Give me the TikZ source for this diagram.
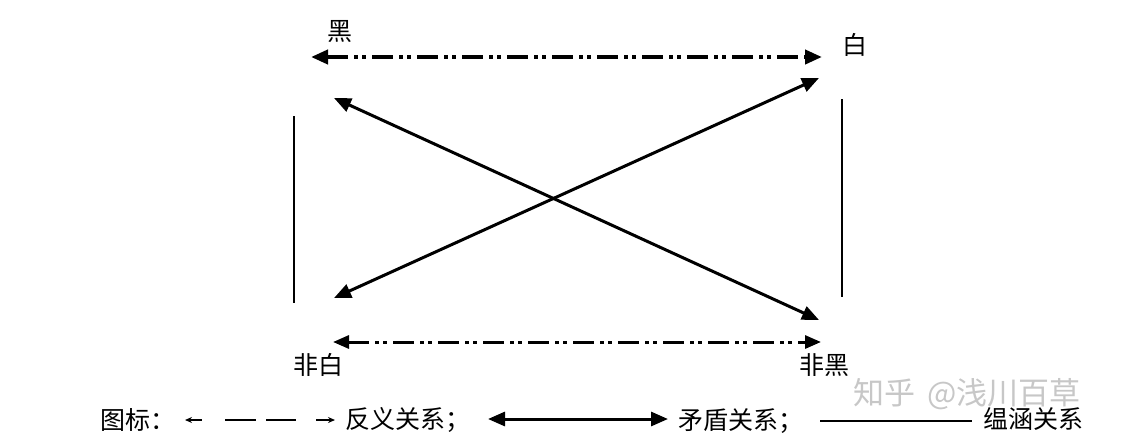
\documentclass[tikz,border=0pt]{standalone}
\usepackage{fontspec}
\newfontfamily\cjk{Noto Sans CJK SC}
\usetikzlibrary{arrows.meta}
\tikzset{
  lbl/.style={font=\cjk\fontsize{25}{27}\selectfont, inner sep=0pt, anchor=center},
  legtext/.style={font=\cjk\fontsize{25}{27}\selectfont, inner sep=0pt, anchor=west},
  contrary/.style={line width=4pt, dash pattern=on 21pt off 6pt on 4pt off 4pt on 4pt off 6pt, {Triangle[length=17pt,width=14pt]}-{Triangle[length=17pt,width=14pt]}},
  contrary2/.style={line width=3pt, dash pattern=on 21pt off 6pt on 4pt off 4pt on 4pt off 6pt, {Triangle[length=16pt,width=13pt]}-{Triangle[length=16pt,width=13pt]}},
  contra/.style={line width=3pt, {Triangle[length=17pt,width=14pt]}-{Triangle[length=17pt,width=14pt]}},
  implies/.style={line width=2.5pt},
  thin/.style={line width=1.2pt},
}
\begin{document}
\begin{tikzpicture}[x=1pt,y=-1pt]
\useasboundingbox (0,0) rectangle (1126,445);
% labels
\node[lbl] (hei) at (340,32) {黑};
\node[lbl] (bai) at (855,45) {白};
\node[lbl] (feibai) at (318,365) {非白};
\node[lbl] (feihei) at (824,365) {非黑};
% endpoints
\coordinate (tl) at (311,57);
\coordinate (tr) at (822,57);
\coordinate (bl) at (333,342);
\coordinate (br) at (821,342);
\coordinate (a1) at (334,98);
\coordinate (a2) at (819,320);
\coordinate (b1) at (334,298);
\coordinate (b2) at (819,78);
\coordinate (l1) at (294,116);
\coordinate (l2) at (294,303);
\coordinate (r1) at (842,99);
\coordinate (r2) at (842,297);
% connectors
\draw[contrary] (tl) -- (tr);
\draw[contrary2] (bl) -- (br);
\draw[contra] (a1) -- (a2);
\draw[contra] (b1) -- (b2);
\draw[implies] (l1) -- (l2);
\draw[implies] (r1) -- (r2);
% watermark
\node[font=\cjk\fontsize{31}{32}\selectfont, text=black!22, inner sep=0pt, anchor=west] (wm) at (853,394) {知乎\hspace{12pt}@浅川百草};
% legend
\node[legtext] (tubiao) at (100,420) {图标：};
\coordinate (d1s) at (185,420);
\coordinate (d1e) at (202,420);
\coordinate (d2s) at (225,420);
\coordinate (d2e) at (256,420);
\coordinate (d3s) at (266,420);
\coordinate (d3e) at (296,420);
\coordinate (d4s) at (316,420);
\coordinate (d4e) at (335,420);
\draw[thin, {Stealth[length=7pt,width=6pt]}-] (d1s) -- (d1e);
\draw[thin] (d2s) -- (d2e);
\draw[thin] (d3s) -- (d3e);
\draw[thin, -{Stealth[length=7pt,width=6pt]}] (d4s) -- (d4e);
\node[legtext] (fanyi) at (345,420) {反义关系；};
\coordinate (m1) at (488,419);
\coordinate (m2) at (668,419);
\draw[contra] (m1) -- (m2);
\node[legtext] (maodun) at (678,421) {矛盾关系；};
\coordinate (y1) at (820,421);
\coordinate (y2) at (972,421);
\draw[line width=1.5pt] (y1) -- (y2);
\node[legtext] (yunhan) at (983,419) {缊涵关系};
\end{tikzpicture}
\end{document}
